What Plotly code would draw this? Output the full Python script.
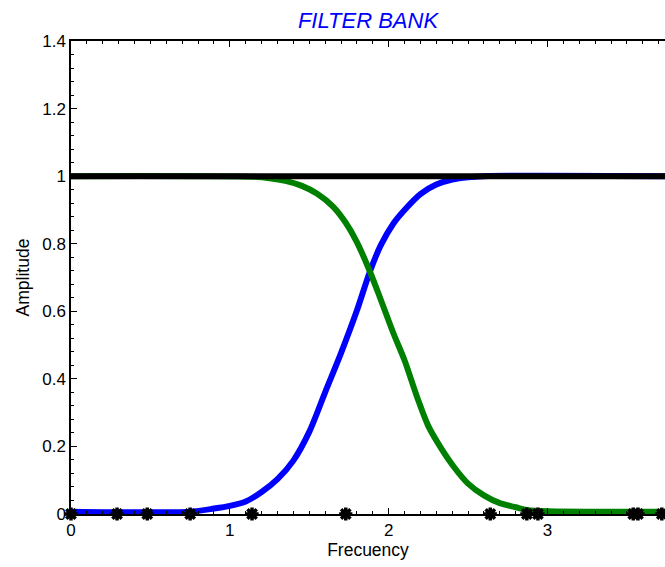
import plotly.graph_objects as go

# ---- data ----
blue_x = [0.0, 0.75, 0.9, 1.0, 1.1, 1.2, 1.3, 1.4, 1.5, 1.6, 1.7, 1.8, 1.88, 1.95, 2.03,
          2.1, 2.2, 2.3, 2.4, 2.5, 2.6, 3.74]
blue_y = [0.007, 0.007, 0.016, 0.024, 0.037, 0.065, 0.103, 0.158, 0.243, 0.36, 0.476, 0.602,
          0.715, 0.795, 0.86, 0.9, 0.947, 0.975, 0.99, 0.997, 1.0, 1.0]

green_x = [0.0, 1.15, 1.25, 1.35, 1.45, 1.55, 1.65, 1.73, 1.8, 1.88, 1.95, 2.03, 2.1, 2.18,
           2.25, 2.33, 2.41, 2.5, 2.6, 2.7, 2.8, 2.87, 3.0, 3.74]
green_y = [1.0, 0.998, 0.994, 0.986, 0.972, 0.948, 0.91, 0.862, 0.805, 0.72, 0.635, 0.535,
           0.455, 0.345, 0.26, 0.195, 0.14, 0.09, 0.055, 0.032, 0.02, 0.012, 0.008, 0.007]

black_x = [0.0, 3.74]
black_y = [1.0, 1.0]

star_x = [0.0, 0.29, 0.48, 0.75, 1.14, 1.73, 2.64, 2.87, 2.94, 3.54, 3.57, 3.72]
star_y = [0.0] * len(star_x)

x_range = [0, 3.74]
y_range = [0, 1.4]

FONT = "Liberation Sans, Arial, sans-serif"

fig = go.Figure()
fig.add_trace(go.Scatter(x=blue_x, y=blue_y, mode="lines",
                         line=dict(color="#0000ff", width=6, shape="spline", smoothing=0.8),
                         showlegend=False, hoverinfo="skip"))
fig.add_trace(go.Scatter(x=green_x, y=green_y, mode="lines",
                         line=dict(color="#008000", width=6, shape="spline", smoothing=0.8),
                         showlegend=False, hoverinfo="skip"))
fig.add_trace(go.Scatter(x=black_x, y=black_y, mode="lines", line=dict(color="#000000", width=6),
                         showlegend=False, hoverinfo="skip"))
fig.add_trace(go.Scatter(x=star_x, y=star_y, mode="markers", cliponaxis=False,
                         marker=dict(symbol="asterisk-open", size=11, color="#000000",
                                     line=dict(color="#000000", width=3.5)),
                         showlegend=False, hoverinfo="skip"))

fig.update_layout(
    width=665, height=567,
    margin=dict(l=71, r=0, t=41, b=53, autoexpand=False),
    paper_bgcolor="white", plot_bgcolor="white",
    font=dict(family=FONT, size=17, color="black"),
    title=dict(text="<i>FILTER BANK</i>", x=0.5, xref="paper", xanchor="center",
               y=1 - 20 / 567, yref="container", yanchor="middle",
               font=dict(family=FONT, size=22, color="#0000ff")),
)
fig.update_xaxes(range=x_range, dtick=1, tick0=0, showgrid=False, zeroline=False,
                 showline=True, linecolor="black", linewidth=1.5, mirror="allticks",
                 ticks="inside", ticklen=6, tickcolor="black", automargin=False,
                 minor=dict(dtick=0.1, ticks="inside", ticklen=3, tickcolor="black"),
                 title=dict(text="Frecuency", font=dict(size=17.5), standoff=5),
                 tickfont=dict(size=17))
fig.update_yaxes(range=y_range, dtick=0.2, tick0=0, showgrid=False, zeroline=False,
                 showline=True, linecolor="black", linewidth=1.5, mirror=False,
                 ticks="inside", ticklen=6, tickcolor="black", automargin=False,
                 minor=dict(dtick=0.04, ticks="inside", ticklen=3, tickcolor="black"),
                 title=dict(text="Amplitude", font=dict(size=17.5), standoff=8),
                 tickfont=dict(size=17))

fig.write_html("out.html", config={"displayModeBar": False},
               post_script="document.body.style.margin='0';document.body.style.overflow='hidden';")
